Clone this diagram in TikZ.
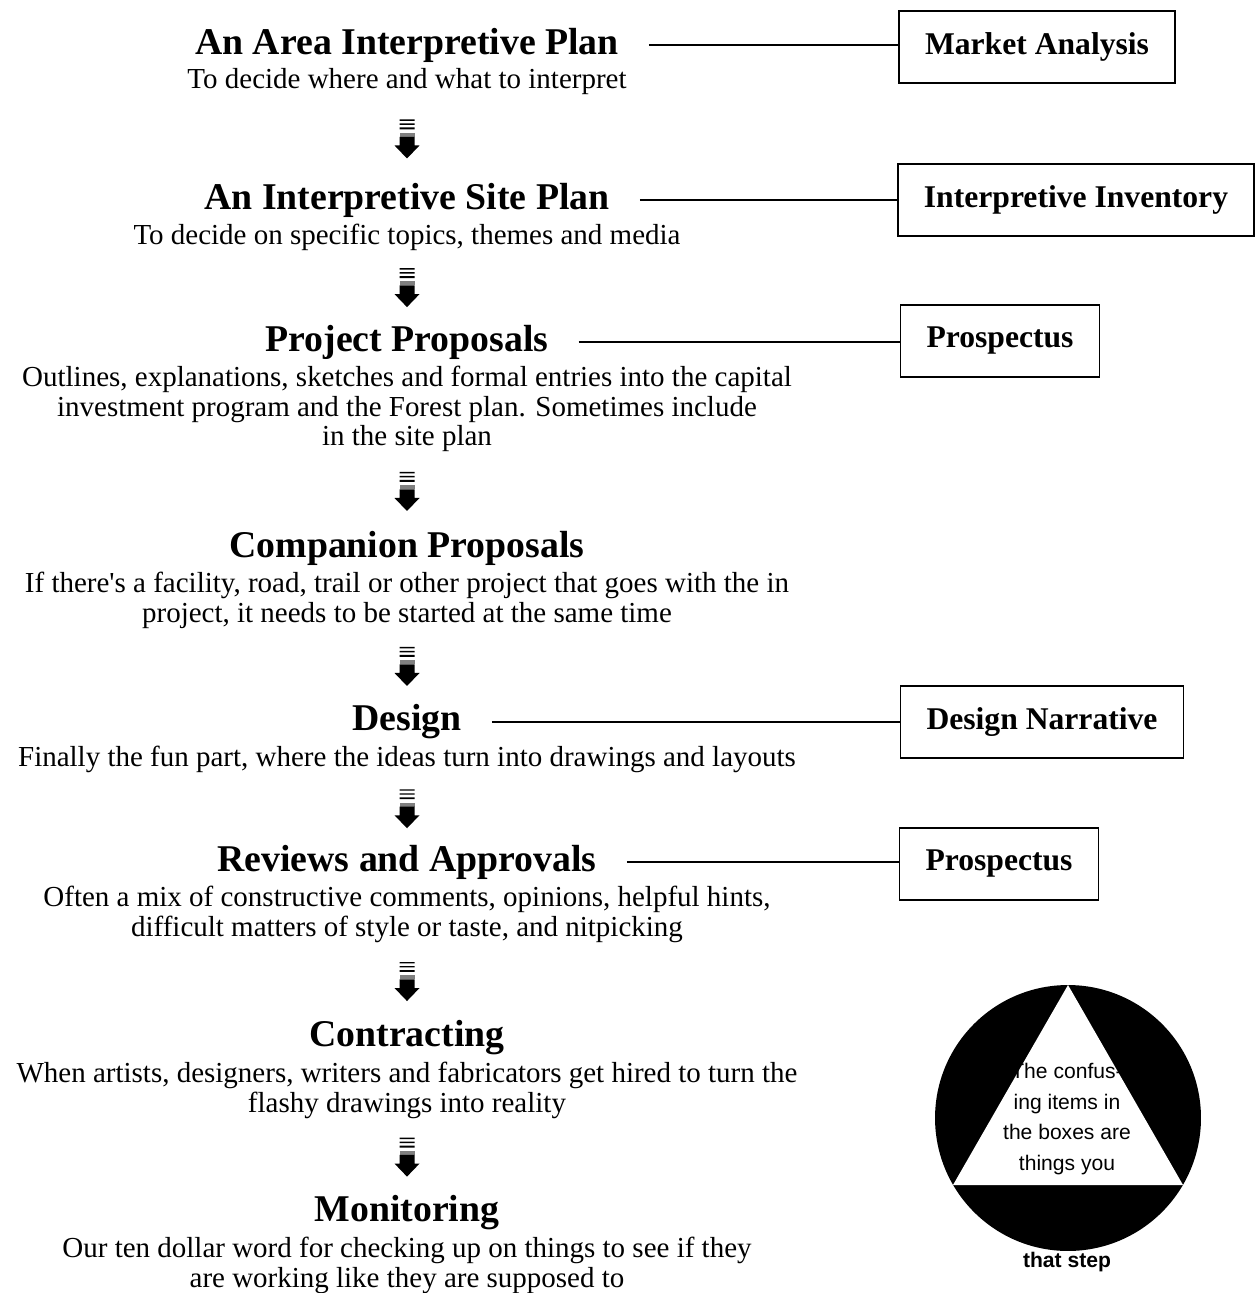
\documentclass[tikz,border=0pt]{standalone}
\usepackage{fontspec}
\setmainfont{Liberation Serif}
\setsansfont{Liberation Sans}
\usepackage{tikz}
\usetikzlibrary{positioning}

\newcommand{\stackarrow}[1]{%
  \begin{scope}[shift={(#1)}]
    \fill (-7.5,-19.5) rectangle (7.5,-18.1)
          (-7.5,-15.5) rectangle (7.5,-14.1)
          (-7.5,-11.5) rectangle (7.5,-9.6);
    \fill[gray] (-7.5,-6.2) rectangle (7.5,-2.2);
    \fill (-7.5,-2.2) -- (7.5,-2.2) -- (7.5,6.5) -- (12.5,6.5) -- (0,19.5)
          -- (-12.5,6.5) -- (-7.5,6.5) -- cycle;
  \end{scope}}

\begin{document}
\begin{tikzpicture}[x=0.02cm, y=-0.02cm]
  \tikzset{head/.style={font=\bfseries\fontsize{21.5}{24}\selectfont, inner xsep=17pt, inner ysep=0pt},
           desc/.style={font=\fontsize{16.5}{17}\selectfont, align=center, inner sep=0pt},
           side/.style={draw, line width=0.85pt, font=\bfseries\fontsize{18}{20}\selectfont,
                        minimum height=14.4mm, inner xsep=5.2mm},
           link/.style={line width=0.75pt}}
  \useasboundingbox (0,0) rectangle (1259,1293);

  \node[head] (t1) at (407,45) {An Area Interpretive Plan};
  \node[desc, below=3.4pt of t1] (s1) {To decide where and what to interpret};
  \node[head] (t2) at (407,200) {An Interpretive Site Plan};
  \node[desc, below=3.4pt of t2] (s2) {To decide on specific topics, themes and media};
  \node[head] (t3) at (407,342) {Project Proposals};
  \node[desc, below=3.4pt of t3] (s3) {Outlines, explanations, sketches and formal entries into the capital\\
    investment program and the Forest plan. Sometimes include\\in the site plan};
  \node[head] (t4) at (407,548) {Companion Proposals};
  \node[desc, below=3.4pt of t4] (s4) {If there\textquotesingle s a facility, road, trail or other project that goes with the in\\
    project, it needs to be started at the same time};
  \node[head] (t5) at (407,722) {Design};
  \node[desc, below=3.4pt of t5] (s5) {Finally the fun part, where the ideas turn into drawings and layouts};
  \node[head] (t6) at (407,862) {Reviews and Approvals};
  \node[desc, below=3.4pt of t6] (s6) {Often a mix of constructive comments, opinions, helpful hints,\\
    difficult matters of style or taste, and nitpicking};
  \node[head] (t7) at (407,1038) {Contracting};
  \node[desc, below=3.4pt of t7] (s7) {When artists, designers, writers and fabricators get hired to turn the\\
    flashy drawings into reality};
  \node[head] (t8) at (407,1213) {Monitoring};
  \node[desc, below=3.4pt of t8] (s8) {Our ten dollar word for checking up on things to see if they\\
    are working like they are supposed to};

  \foreach \i/\j in {1/2,2/3,3/4,4/5,5/6,6/7,7/8}{
    \path (s\i.south) -- (t\j.north) coordinate[midway] (a\i);
    \stackarrow{a\i}
  }

  \node[side] (b1) at (1037,47) {Market Analysis};
  \node[side] (b2) at (1076,200) {Interpretive Inventory};
  \node[side] (b3) at (1000,341) {Prospectus};
  \node[side] (b5) at (1042,722) {Design Narrative};
  \node[side] (b6) at (999,864) {Prospectus};
  \foreach \i in {1,2,3,5,6}
    \draw[link] (t\i.east) -- (t\i.east -| b\i.west);

  \fill (1068,1118) circle[radius=2.66cm];
  \fill[white] (1068,985) -- (1183,1185) -- (953,1185) -- cycle;
  \node[font=\sffamily\fontsize{12}{17.6}\selectfont, align=center, inner sep=0pt] (note) at (1067,1119)
    {The confus-\\ing items in\\the boxes are\\things you};
  \node[font=\sffamily\bfseries\fontsize{12}{14}\selectfont, inner sep=0pt] (step) at (1067,1262) {that step};
\end{tikzpicture}
\end{document}
